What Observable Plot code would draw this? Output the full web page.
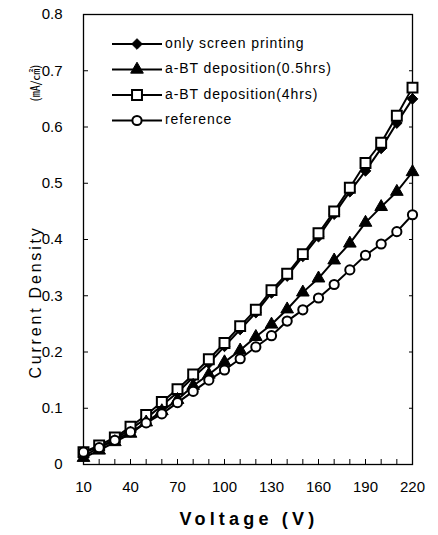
<!DOCTYPE html>
<html>
<head>
<meta charset="utf-8">
<script src="https://cdn.jsdelivr.net/npm/d3@7"></script>
<script src="https://cdn.jsdelivr.net/npm/@observablehq/plot@0.6"></script>
<style>
  body { margin: 0; background: #fff; }
  #chart svg { font-family: "Liberation Sans", Arial, sans-serif; background: #fff; }
</style>
</head>
<body>
<div id="chart"></div>
<script>
// Applied voltage (V)
const voltage = [10, 20, 30, 40, 50, 60, 70, 80, 90, 100, 110, 120, 130, 140, 150, 160, 170, 180, 190, 200, 210, 220];

// Current density (mA/cm²) for each sample
const screenPrinting = [0.015, 0.030, 0.045, 0.063, 0.082, 0.105, 0.128, 0.155, 0.180, 0.210, 0.240, 0.270, 0.305, 0.335, 0.370, 0.405, 0.445, 0.485, 0.522, 0.562, 0.607, 0.650];
const bt05h = [0.012, 0.025, 0.040, 0.055, 0.075, 0.095, 0.115, 0.140, 0.160, 0.182, 0.203, 0.227, 0.249, 0.276, 0.306, 0.331, 0.363, 0.393, 0.430, 0.458, 0.485, 0.520];
const bt4h = [0.022, 0.034, 0.048, 0.067, 0.088, 0.111, 0.134, 0.160, 0.187, 0.216, 0.246, 0.275, 0.310, 0.339, 0.374, 0.411, 0.450, 0.492, 0.536, 0.572, 0.620, 0.670];
const reference = [0.022, 0.030, 0.043, 0.058, 0.074, 0.090, 0.110, 0.130, 0.150, 0.168, 0.188, 0.209, 0.229, 0.255, 0.275, 0.296, 0.320, 0.346, 0.372, 0.392, 0.414, 0.444];

const seriesNames = ["only screen printing", "a-BT deposition(0.5hrs)", "a-BT deposition(4hrs)", "reference"];
const seriesValues = [screenPrinting, bt05h, bt4h, reference];

const xTickLabels = [10, 40, 70, 100, 130, 160, 190, 220];
const xMinorTicks = [10, 20, 30, 40, 50, 60, 70, 80, 90, 100, 110, 120, 130, 140, 150, 160, 170, 180, 190, 200, 210, 220];
const yTickLabels = [0, 0.1, 0.2, 0.3, 0.4, 0.5, 0.6, 0.7, 0.8];

// Marker style per series
const markers = [
  {symbol: "diamond2", r: 4.8, fill: "black", stroke: "black", strokeWidth: 1},
  {symbol: "triangle", r: 4.7, fill: "black", stroke: "black", strokeWidth: 1},
  {symbol: "square", r: 5.6, fill: "white", stroke: "black", strokeWidth: 2},
  {symbol: "circle", r: 4.6, fill: "white", stroke: "black", strokeWidth: 2}
];

const rows = seriesNames.flatMap((name, s) =>
  voltage.map((v, i) => ({series: name, voltage: v, density: seriesValues[s][i]}))
);

const W = 438, H = 535;
const margin = {top: 14, right: 26, bottom: 71, left: 83};
const plotW = W - margin.left - margin.right;
const plotH = H - margin.top - margin.bottom;

// drawing order: filled diamonds under the open squares
const drawOrder = [0, 2, 1, 3];

const chart = Plot.plot({
  width: W,
  height: H,
  marginTop: margin.top,
  marginRight: margin.right,
  marginBottom: margin.bottom,
  marginLeft: margin.left,
  style: {fontSize: "15px", fontFamily: "Liberation Sans, Arial, sans-serif", color: "black"},
  x: {domain: [10, 220], ticks: xTickLabels, tickSize: 0, tickPadding: 17, label: null},
  y: {domain: [0, 0.8], ticks: yTickLabels, tickSize: 0, tickPadding: 21, label: null,
      tickFormat: d => d === 0 ? "0" : d.toFixed(1)},
  marks: [
    Plot.frame({stroke: "black", strokeWidth: 1.3}),
    Plot.tickX(xMinorTicks, {x: d => d, insetTop: plotH - 5, stroke: "black", strokeWidth: 1}),
    Plot.tickY(yTickLabels, {y: d => d, insetRight: plotW - 5, stroke: "black", strokeWidth: 1}),
    Plot.tickY(yTickLabels, {y: d => d, insetLeft: plotW - 3, stroke: "black", strokeWidth: 1}),
    ...drawOrder.flatMap(s => {
      const data = rows.filter(d => d.series === seriesNames[s]);
      return [
        Plot.line(data, {x: "voltage", y: "density", stroke: "black", strokeWidth: 2}),
        Plot.dot(data, {x: "voltage", y: "density", ...markers[s]})
      ];
    })
  ]
});

const svg = d3.select(chart);

// Axis titles
svg.append("text")
  .attr("x", 249).attr("y", 520)
  .attr("text-anchor", "middle")
  .attr("dominant-baseline", "middle")
  .style("font-size", "18px")
  .style("font-weight", "bold")
  .style("letter-spacing", "4.2px")
  .text("Voltage (V)");

svg.append("text")
  .attr("transform", "translate(37,302) rotate(-90)")
  .attr("text-anchor", "middle")
  .attr("dominant-baseline", "middle")
  .style("font-size", "16px")
  .style("letter-spacing", "2.8px")
  .text("Current Density");

svg.append("text")
  .attr("transform", "translate(37,83) rotate(-90)")
  .attr("text-anchor", "middle")
  .attr("dominant-baseline", "middle")
  .style("font-size", "12px")
  .style("font-family", "'Noto Sans CJK KR', sans-serif")
  .text("(㎃/㎠)");

// Legend
const symbolTypes = [d3.symbolDiamond2, d3.symbolTriangle, d3.symbolSquare, d3.symbolCircle];
const legend = svg.append("g").attr("text-anchor", "start");
seriesNames.forEach((name, i) => {
  const g = legend.append("g").attr("transform", `translate(137,${44 + i * 25.5})`);
  g.append("line").attr("x1", -25).attr("x2", 25).attr("stroke", "black").attr("stroke-width", 2);
  const m = markers[i];
  g.append("path")
    .attr("d", d3.symbol(symbolTypes[i], m.r * m.r * Math.PI)())
    .attr("fill", m.fill).attr("stroke", m.stroke).attr("stroke-width", m.strokeWidth);
  g.append("text")
    .attr("x", 28)
    .attr("text-anchor", "start")
    .attr("dominant-baseline", "middle")
    .style("font-size", "14px")
    .style("letter-spacing", "0.9px")
    .text(name);
});

document.getElementById("chart").appendChild(chart);
</script>
</body>
</html>
